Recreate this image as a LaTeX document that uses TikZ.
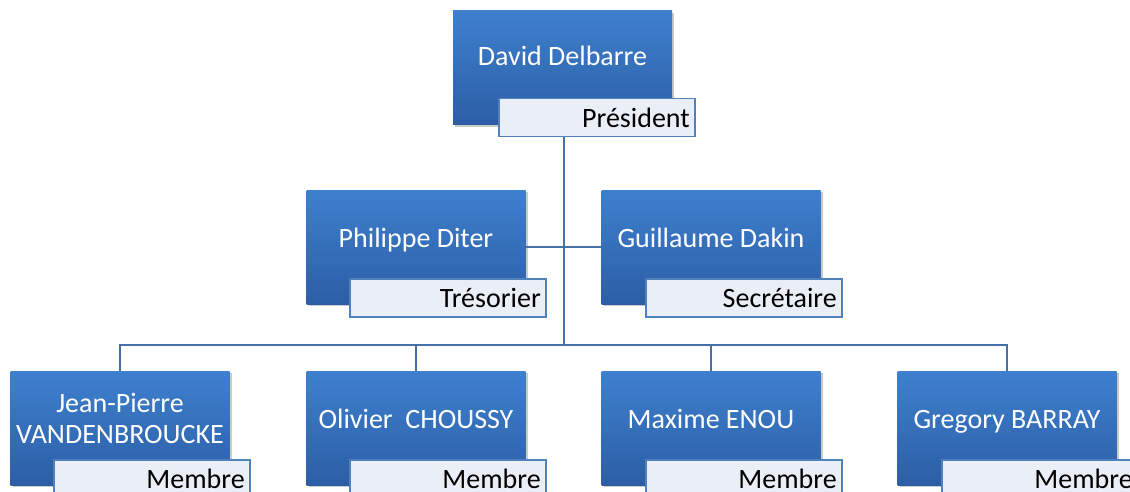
\documentclass[tikz,border=0pt]{standalone}
\usepackage{fontspec}
\setmainfont{Carlito}
\usetikzlibrary{shadows}
\definecolor{boxtop}{RGB}{62,128,206}
\definecolor{boxbot}{RGB}{44,94,166}
\definecolor{rolefill}{RGB}{234,239,247}
\definecolor{roleline}{RGB}{79,129,189}
\definecolor{connline}{RGB}{70,112,170}
\pgfdeclarelayer{bg}
\pgfsetlayers{bg,main}
\tikzset{
  person/.style={rectangle, minimum width=219pt, minimum height=114pt, inner sep=0pt,
    top color=boxtop, bottom color=boxbot, draw=none,
    drop shadow={shadow xshift=2pt, shadow yshift=-2pt, opacity=0.35, fill=black!60}},
  pname/.style={text=white, font=\fontsize{28}{30.5}\selectfont, align=center, anchor=base, inner sep=0pt},
  role/.style={rectangle, anchor=north west, draw=roleline, line width=1.5pt, fill=rolefill,
    minimum height=38pt, text width=186pt, align=right, inner xsep=5pt, inner ysep=0pt,
    text height=19pt, text depth=0pt, font=\fontsize{28}{31}\selectfont, text=black},
  conn/.style={draw=connline, line width=2pt}
}
\begin{document}
\begin{tikzpicture}[x=1pt,y=-1pt]
\useasboundingbox (0,0) rectangle (1130,492);
\clip (0,0) rectangle (1130,492);
% boxes
\node[person] (dd) at (562.5,68) {};
\node[person] (pd) at (416,247) {};
\node[person] (gd) at (711,247) {};
\node[person] (jp) at (120,428) {};
\node[person] (oc) at (416,428) {};
\node[person] (me) at (711,428) {};
\node[person] (gb) at (1007,428) {};
% names
\node[pname] (ddn) at (562.5,66) {David Delbarre};
\node[pname] (pdn) at (416,247) {Philippe Diter};
\node[pname] (gdn) at (711,247) {Guillaume Dakin};
\node[pname] (jpn) at (120,443) {Jean-Pierre\\VANDENBROUCKE};
\node[pname] (ocn) at (416,428) {Olivier\ \ CHOUSSY};
\node[pname] (men) at (711,428) {Maxime ENOU};
\node[pname] (gbn) at (1007,428) {Gregory BARRAY};
% roles
\node[role] (ddr) at (498,98) {Président};
\node[role] (pdr) at (349,278) {Trésorier};
\node[role] (gdr) at (645,278) {Secrétaire};
\node[role] (jpr) at (53,459) {Membre};
\node[role] (ocr) at (349,459) {Membre};
\node[role] (mer) at (645,459) {Membre};
\node[role] (gbr) at (941,459) {Membre};
% connectors
\coordinate (hub) at (564,345);
\begin{pgfonlayer}{bg}
\draw[conn] (dd.south -| hub) -- (hub);
\draw[conn] (pd.east) -- (gd.west);
\draw[conn] (jp.north) |- (hub);
\draw[conn] (oc.north) |- (hub);
\draw[conn] (me.north) |- (hub);
\draw[conn] (gb.north) |- (hub);
\end{pgfonlayer}
\end{tikzpicture}
\end{document}
